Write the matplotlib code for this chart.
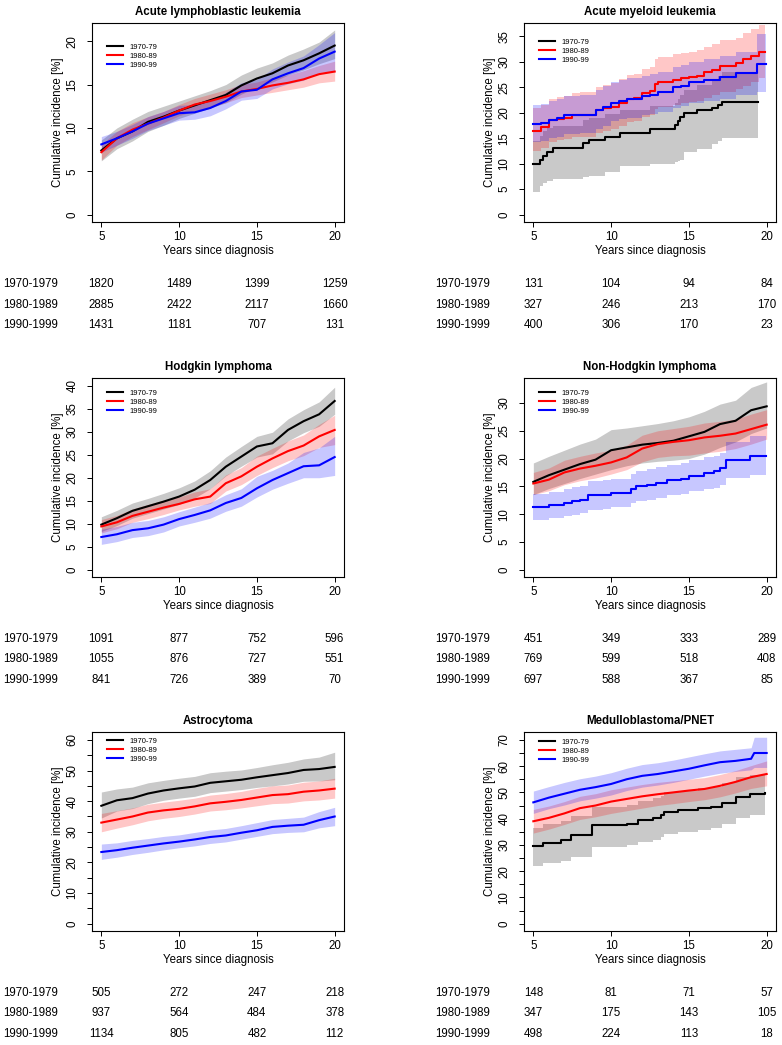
import numpy as np
import matplotlib
matplotlib.use("Agg")
import matplotlib.pyplot as plt

plt.rcParams['font.family'] = ['Liberation Sans', 'DejaVu Sans']

periods = ["1970-79", "1980-89", "1990-99"]
row_labels = ["1970-1979", "1980-1989", "1990-1999"]
colors = ["black", "red", "blue"]
band_colors = [(0, 0, 0, 0.21), (1, 0, 0, 0.22), (0, 0, 1, 0.22)]

years = [5, 6, 7, 8, 9, 10, 11, 12, 13, 14, 15, 16, 17, 18, 19, 20]

# ---- Acute lymphoblastic leukemia
all_t = [years, years, years]
all_est = [[7.4, 8.8, 9.6, 10.7, 11.3, 12.0, 12.6, 13.2, 13.8, 14.9, 15.7, 16.3, 17.2, 17.8, 18.6, 19.5],
           [7.2, 8.8, 9.8, 10.5, 11.2, 12.0, 12.7, 13.1, 13.6, 14.2, 14.5, 14.9, 15.2, 15.6, 16.2, 16.5],
           [8.1, 8.8, 9.6, 10.5, 11.1, 11.7, 11.8, 12.3, 13.1, 14.2, 14.4, 15.6, 16.3, 16.9, 18.0, 18.8]]
all_lo = [[6.2, 7.6, 8.5, 9.6, 10.3, 11.1, 11.7, 12.3, 12.9, 13.9, 14.7, 15.3, 16.1, 16.7, 17.4, 18.0],
          [6.3, 8.0, 9.0, 9.8, 10.6, 11.4, 12.0, 12.4, 12.9, 13.5, 13.8, 14.1, 14.4, 14.7, 15.2, 15.4],
          [7.2, 8.0, 8.8, 9.7, 10.3, 10.9, 11.0, 11.4, 12.2, 13.2, 13.4, 14.5, 15.1, 15.5, 16.4, 16.5]]
all_hi = [[8.6, 10.0, 11.0, 11.9, 12.5, 13.1, 13.7, 14.3, 15.0, 16.1, 16.9, 17.5, 18.4, 19.1, 19.9, 21.3],
          [8.1, 9.6, 10.6, 11.3, 11.9, 12.7, 13.4, 13.9, 14.4, 15.0, 15.3, 15.8, 16.1, 16.6, 17.2, 17.7],
          [9.0, 9.6, 10.4, 11.3, 11.9, 12.6, 12.7, 13.2, 14.1, 15.2, 15.6, 16.8, 17.6, 18.3, 19.6, 21.0]]
all_risk = [[1820, 1489, 1399, 1259], [2885, 2422, 2117, 1660], [1431, 1181, 707, 131]]

# ---- Acute myeloid leukemia (coarse steps)
aml_t = [[5.0, 5.4, 5.65, 5.9, 6.25, 8.2, 8.55, 9.6, 10.6, 12.5, 14.1, 14.3, 14.45, 14.7, 15.5, 16.5, 16.85, 17.1, 19.45],
         [5.0, 5.5, 6.0, 6.5, 7.0, 7.5, 8.0, 8.7, 9.0, 9.5, 10.0, 10.5, 11.0, 11.5, 12.0, 12.5, 12.8, 13.0, 14.0,
          14.5, 15.0, 15.5, 16.0, 16.5, 17.0, 18.0, 18.5, 19.0, 19.5, 19.9],
         [5.0, 5.5, 6.0, 6.5, 7.0, 8.0, 8.7, 9.0, 9.5, 10.0, 10.5, 11.0, 12.0, 12.5, 13.0, 14.0, 14.5, 15.0, 16.0,
          17.0, 18.0, 19.4, 19.95]]
aml_est = [[9.9, 10.8, 11.6, 12.4, 13.1, 14.0, 14.7, 15.3, 16.0, 16.9, 17.6, 18.4, 19.1, 19.9, 20.6, 21.0, 21.6, 22.2, 22.2],
           [16.5, 17.2, 18.5, 18.8, 19.0, 19.5, 19.6, 19.6, 20.5, 21.0, 21.2, 22.0, 22.8, 23.0, 23.8, 24.3, 25.7, 26.0,
            26.5, 26.8, 27.0, 27.3, 28.0, 28.5, 29.2, 29.7, 30.5, 31.2, 32.0, 32.0],
           [17.8, 18.0, 18.5, 18.9, 19.5, 19.6, 19.6, 20.5, 21.2, 22.0, 22.4, 22.8, 23.3, 23.6, 24.0, 25.0, 25.3, 26.0,
            26.5, 27.0, 27.8, 29.6, 29.6]]
aml_lo = [[4.5, 5.7, 6.2, 6.7, 7.0, 7.3, 7.6, 8.3, 9.6, 10.0, 10.3, 10.5, 10.8, 12.4, 12.9, 13.9, 14.4, 15.1, 15.1],
          [12.5, 13.0, 14.3, 14.6, 14.8, 15.2, 15.3, 15.3, 16.0, 16.5, 16.8, 17.5, 18.2, 18.4, 19.1, 19.6, 20.8, 21.1,
           21.6, 21.9, 22.1, 22.4, 23.0, 23.5, 24.1, 24.6, 25.3, 26.0, 26.8, 26.8],
          [14.2, 14.5, 15.0, 15.3, 15.8, 16.0, 16.0, 16.8, 17.5, 18.3, 18.7, 19.0, 19.5, 19.8, 20.2, 21.0, 21.3, 22.0,
           22.4, 22.8, 23.5, 24.0, 24.0]]
aml_hi = [[14.5, 15.5, 16.5, 17.0, 17.5, 18.5, 19.0, 19.8, 20.5, 21.3, 22.0, 22.8, 23.5, 24.5, 25.5, 26.5, 27.2, 28.0, 29.3],
          [21.0, 21.5, 22.8, 23.1, 23.3, 23.8, 24.0, 24.0, 25.0, 25.5, 25.8, 26.6, 27.5, 27.7, 28.6, 29.1, 30.6, 31.0,
           31.5, 31.8, 32.0, 32.3, 33.0, 33.5, 34.3, 34.8, 35.6, 36.4, 37.2, 37.2],
          [21.6, 21.8, 22.3, 22.7, 23.3, 23.5, 23.5, 24.4, 25.2, 26.0, 26.4, 26.8, 27.3, 27.6, 28.0, 29.0, 29.3, 30.0,
           30.5, 31.1, 32.0, 35.5, 35.5]]
aml_risk = [[131, 104, 94, 84], [327, 246, 213, 170], [400, 306, 170, 23]]

# ---- Hodgkin lymphoma
hl_t = [years, years, years]
hl_est = [[9.8, 11.2, 12.8, 13.8, 14.8, 15.9, 17.4, 19.5, 22.4, 24.6, 26.8, 27.5, 30.4, 32.3, 33.8, 36.7],
          [9.4, 10.3, 11.7, 12.6, 13.5, 14.3, 15.3, 15.9, 18.8, 20.3, 22.4, 24.2, 25.8, 27.0, 29.0, 30.4],
          [7.1, 7.7, 8.6, 9.0, 9.8, 11.0, 11.9, 12.9, 14.5, 15.6, 17.7, 19.5, 21.0, 22.5, 22.7, 24.5]]
hl_lo = [[8.3, 9.6, 11.2, 12.2, 13.2, 14.2, 15.6, 17.6, 20.4, 22.5, 24.5, 25.2, 28.0, 29.8, 31.2, 33.8],
         [8.0, 8.9, 10.3, 11.1, 12.0, 13.0, 13.8, 14.4, 17.1, 18.5, 20.5, 22.2, 23.7, 24.8, 26.6, 27.2],
         [5.5, 6.1, 7.0, 7.4, 8.2, 9.5, 10.3, 11.2, 12.7, 13.8, 15.8, 17.5, 18.8, 20.0, 20.0, 20.5]]
hl_hi = [[11.5, 12.9, 14.5, 15.5, 16.6, 17.8, 19.3, 21.5, 24.5, 26.8, 29.0, 29.9, 32.8, 34.8, 36.5, 39.7],
         [10.9, 11.8, 13.2, 14.2, 15.1, 15.8, 16.9, 17.6, 20.6, 22.2, 24.7, 26.4, 28.0, 29.3, 31.6, 33.6],
         [8.8, 9.4, 10.3, 10.7, 11.5, 12.6, 13.6, 14.6, 16.3, 17.6, 20.3, 21.6, 23.2, 25.5, 26.5, 29.0]]
hl_risk = [[1091, 877, 752, 596], [1055, 876, 727, 551], [841, 726, 389, 70]]

# ---- Non-Hodgkin lymphoma
nhl_t = [years, years,
         [5.0, 6.0, 7.0, 7.5, 8.0, 8.5, 9.5, 10.0, 11.3, 11.6, 12.3, 12.9, 13.6, 14.5, 15.0, 16.0, 16.6, 17.0,
          17.4, 18.9, 19.95]]
nhl_est = [[15.8, 17.0, 18.0, 19.0, 19.8, 21.5, 22.0, 22.5, 22.8, 23.2, 24.0, 24.8, 26.2, 26.8, 28.7, 29.4],
           [15.5, 16.2, 17.5, 18.2, 18.7, 19.3, 20.2, 21.8, 22.6, 23.0, 23.3, 23.8, 24.1, 24.5, 25.3, 26.1],
           [11.3, 11.6, 12.0, 12.3, 12.6, 13.4, 13.5, 13.8, 14.6, 15.0, 15.3, 15.6, 16.1, 16.4, 16.9, 17.4, 17.7,
            18.3, 19.8, 20.5, 20.5]]
nhl_lo = [[13.5, 14.6, 15.5, 16.4, 17.2, 18.0, 18.7, 19.2, 19.5, 19.7, 20.0, 20.8, 22.0, 23.0, 24.5, 25.5],
          [13.5, 14.2, 15.3, 16.0, 16.5, 17.2, 18.0, 19.4, 20.2, 20.5, 20.6, 21.0, 21.3, 21.8, 22.6, 23.5],
          [9.0, 9.3, 9.6, 9.9, 10.2, 10.8, 11.0, 11.3, 12.0, 12.3, 12.6, 12.9, 13.4, 13.6, 14.1, 14.5, 14.7,
           15.2, 16.5, 17.0, 17.0]]
nhl_hi = [[19.2, 20.4, 21.5, 22.6, 23.5, 25.2, 25.5, 25.9, 26.3, 26.8, 27.5, 28.5, 29.8, 30.5, 32.8, 33.8],
          [17.5, 18.3, 19.7, 20.4, 21.0, 21.5, 22.4, 24.2, 25.0, 25.4, 25.8, 26.4, 26.7, 27.1, 28.0, 28.8],
          [13.7, 14.0, 14.5, 14.8, 15.1, 15.9, 16.1, 16.3, 17.2, 17.7, 18.1, 18.4, 18.8, 19.2, 19.7, 20.3, 20.5,
           21.0, 23.0, 24.0, 24.0]]
nhl_risk = [[451, 349, 333, 289], [769, 599, 518, 408], [697, 588, 367, 85]]

# ---- Astrocytoma
astro_t = [years, years, years]
astro_est = [[38.5, 40.3, 41.0, 42.5, 43.5, 44.2, 44.8, 46.0, 46.5, 47.0, 47.8, 48.5, 49.2, 50.2, 50.5, 51.2],
             [33.0, 34.0, 35.0, 36.3, 37.0, 37.5, 38.3, 39.3, 39.8, 40.4, 41.2, 42.0, 42.3, 43.1, 43.5, 44.1],
             [23.4, 24.0, 24.8, 25.5, 26.2, 26.8, 27.5, 28.3, 28.8, 29.7, 30.5, 31.6, 32.0, 32.3, 33.8, 35.0]]
astro_lo = [[34.5, 36.8, 37.6, 39.2, 40.3, 41.0, 41.6, 42.8, 43.3, 43.8, 44.5, 45.0, 45.6, 46.5, 46.6, 47.0],
            [30.0, 31.2, 32.3, 33.6, 34.4, 35.0, 35.8, 36.8, 37.2, 37.8, 38.5, 39.2, 39.4, 40.1, 40.4, 41.0],
            [21.0, 21.7, 22.6, 23.3, 24.1, 24.8, 25.4, 26.2, 26.7, 27.6, 28.5, 29.4, 29.8, 30.0, 31.3, 32.0]]
astro_hi = [[43.0, 44.0, 44.6, 46.0, 46.8, 47.5, 48.1, 49.3, 49.8, 50.2, 51.0, 51.9, 52.7, 53.8, 54.4, 56.0],
            [36.0, 36.9, 37.8, 39.0, 39.7, 40.3, 41.0, 42.0, 42.5, 43.2, 44.2, 45.0, 45.3, 46.2, 46.6, 47.5],
            [26.0, 26.4, 27.2, 27.8, 28.5, 29.0, 29.8, 30.6, 31.1, 32.0, 33.0, 34.0, 34.4, 34.8, 36.6, 38.0]]
astro_risk = [[505, 272, 247, 218], [937, 564, 484, 378], [1134, 805, 482, 112]]

# ---- Medulloblastoma/PNET
med_t = [[5.0, 5.6, 6.8, 7.45, 8.75, 11.0, 11.7, 12.7, 13.2, 13.4, 14.3, 15.6, 16.4, 17.1, 18.0, 18.9, 19.9],
         years,
         [5, 6, 7, 8, 9, 10, 11, 12, 13, 14, 15, 16, 17, 18, 19, 19.2, 20]]
med_est = [[29.7, 30.8, 31.8, 33.8, 37.4, 38.0, 39.4, 40.3, 41.4, 42.7, 43.1, 44.0, 44.6, 46.1, 48.3, 49.3, 49.7],
           [39.0, 40.3, 42.0, 44.0, 45.0, 46.5, 47.5, 48.5, 49.3, 50.0, 50.7, 51.3, 52.5, 54.0, 55.8, 57.0],
           [46.2, 48.0, 49.5, 51.0, 52.0, 53.2, 55.0, 56.3, 57.0, 58.0, 59.0, 60.3, 61.5, 62.0, 62.8, 65.0, 65.0]]
med_lo = [[22.0, 23.0, 24.0, 25.5, 29.3, 30.0, 31.0, 32.0, 33.0, 34.3, 35.0, 35.7, 36.5, 38.0, 40.2, 41.2, 41.6],
          [34.5, 36.0, 37.8, 39.7, 40.7, 42.0, 43.0, 44.0, 45.0, 45.7, 46.5, 47.2, 48.3, 49.8, 51.5, 52.5],
          [42.0, 43.8, 45.2, 46.8, 47.8, 49.0, 50.7, 52.0, 52.8, 53.8, 55.0, 56.2, 57.3, 58.0, 58.6, 59.5, 59.5]]
med_hi = [[36.5, 37.8, 39.0, 41.0, 44.5, 45.3, 46.7, 47.7, 48.8, 50.2, 50.6, 51.5, 52.2, 53.7, 55.8, 56.8, 57.6],
          [43.5, 44.8, 46.5, 48.5, 49.5, 51.0, 52.0, 53.0, 53.8, 54.4, 55.0, 55.6, 56.8, 58.3, 60.2, 62.0],
          [50.5, 52.2, 53.8, 55.2, 56.2, 57.5, 59.2, 60.6, 61.3, 62.3, 63.5, 64.7, 65.8, 66.4, 67.0, 71.0, 71.0]]
med_risk = [[148, 81, 71, 57], [347, 175, 143, 105], [498, 224, 113, 18]]

titles = ["Acute lymphoblastic leukemia", "Acute myeloid leukemia", "Hodgkin lymphoma",
          "Non-Hodgkin lymphoma", "Astrocytoma", "Medulloblastoma/PNET"]
panels = [
    (all_t, all_est, all_lo, all_hi, all_risk, [False, False, False]),
    (aml_t, aml_est, aml_lo, aml_hi, aml_risk, [True, True, True]),
    (hl_t, hl_est, hl_lo, hl_hi, hl_risk, [False, False, False]),
    (nhl_t, nhl_est, nhl_lo, nhl_hi, nhl_risk, [False, False, True]),
    (astro_t, astro_est, astro_lo, astro_hi, astro_risk, [False, False, False]),
    (med_t, med_est, med_lo, med_hi, med_risk, [True, False, False]),
]
ylims = [(-0.85, 22.1), (-1.45, 37.65), (-1.6, 41.7), (-1.33, 34.5), (-2.4, 62.6), (-2.8, 73.0)]
yticks = [np.arange(0, 21, 5), np.arange(0, 36, 5), np.arange(0, 41, 5),
          np.arange(0, 31, 5), np.arange(0, 61, 5), np.arange(0, 71, 5)]
ylabel_step = [5, 5, 5, 5, 10, 10]
legend_off = [25, 20, 16, 16, 10, 11]   # px from top of box to first legend row

W, H = 782, 1045
fig = plt.figure(figsize=(W / 100, H / 100), dpi=100)
lefts = [92, 524]
tops = [23, 378, 732]
aw, ah = 252, 199
fs = 8.3

for i, (t, est, lo, hi, risk, steps) in enumerate(panels):
    col, row = i % 2, i // 2
    ax = fig.add_axes([lefts[col] / W, 1 - (tops[row] + ah) / H, aw / W, ah / H])
    for k in range(3):
        if steps[k]:
            ax.fill_between(t[k], lo[k], hi[k], step='post', color=band_colors[k], lw=0)
            ax.step(t[k], est[k], where='post', color=colors[k], lw=1.5, label=periods[k])
        else:
            ax.fill_between(t[k], lo[k], hi[k], color=band_colors[k], lw=0)
            ax.plot(t[k], est[k], color=colors[k], lw=1.5, label=periods[k])

    ax.set_xlim(4.4, 20.6)
    ax.set_ylim(*ylims[i])
    ax.set_xticks([5, 10, 15, 20])
    ax.set_yticks(yticks[i])
    ax.set_yticklabels([str(v) if v % ylabel_step[i] == 0 else "" for v in yticks[i]])
    ax.tick_params(axis='both', direction='out', length=3.6, width=0.7, labelsize=fs)
    ax.tick_params(axis='y', labelrotation=90, pad=6)
    ax.tick_params(axis='x', pad=3)
    for lab in ax.get_yticklabels():
        lab.set_va('center')
    for sp in ax.spines.values():
        sp.set_linewidth(0.8)
    ax.set_xlabel("Years since diagnosis", fontsize=fs, labelpad=1)
    ax.set_ylabel("Cumulative incidence [%]", fontsize=fs, labelpad=2)
    ax.set_title(titles[i], fontsize=fs, fontweight='bold', pad=5.5)

    y_anchor = 1 - (legend_off[i] - 4.5) / ah
    ax.legend(loc='upper left', bbox_to_anchor=(0.06, y_anchor), frameon=False,
              fontsize=5.5, handlelength=2.1, handletextpad=0.8, labelspacing=0.22,
              borderpad=0, borderaxespad=0)

    # numbers at risk
    trans = ax.get_xaxis_transform()
    for r in range(3):
        yy = -(62 + r * 20.5) / ah
        ax.text(-0.353, yy, row_labels[r], transform=ax.transAxes, ha='left', va='center', fontsize=fs)
        for xv, n in zip([5, 10, 15, 20], risk[r]):
            ax.text(xv, yy, str(n), transform=trans, ha='center', va='center', fontsize=fs)

fig.savefig("out.png", dpi=100)
